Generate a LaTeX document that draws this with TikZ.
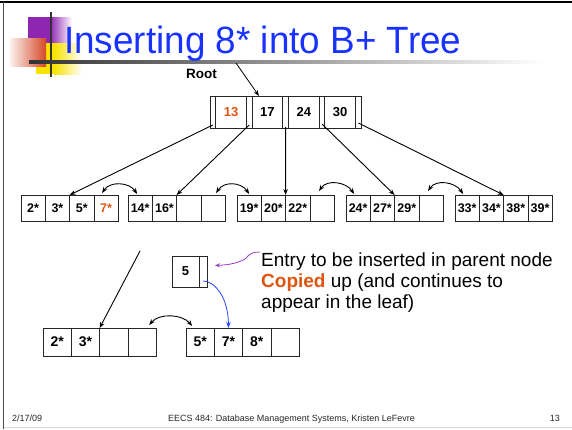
\documentclass[tikz,border=0pt]{standalone}
\usepackage{graphicx}
\usepackage{fontspec}
\setmainfont{Liberation Sans}
\usetikzlibrary{arrows.meta}
\definecolor{ttlblue}{RGB}{25,50,255}
\definecolor{hiorange}{RGB}{221,85,17}
\definecolor{decopurple}{RGB}{142,38,178}
\definecolor{decoyellow}{RGB}{248,226,0}
\definecolor{decored}{RGB}{214,72,40}
\definecolor{arrblue}{RGB}{40,70,255}
\definecolor{squig}{RGB}{150,60,200}
\begin{document}
\begin{tikzpicture}[x=1pt,y=-1pt,
  cell/.style={draw=black!85, line width=0.7pt, minimum width=24.3pt, minimum height=26pt, inner sep=0pt, outer sep=0pt, anchor=west, font=\bfseries\fontsize{12.5}{12.5}\selectfont},
  bcell/.style={cell, minimum width=28.3pt, minimum height=28pt, font=\bfseries\fontsize{14}{14}\selectfont},
  rkey/.style={draw=black!85, line width=0.7pt, minimum width=30.8pt, minimum height=32pt, inner sep=0pt, outer sep=0pt, anchor=west, font=\bfseries\fontsize{13}{13}\selectfont},
  rptr/.style={draw=black!85, line width=1pt, minimum width=5.6pt, minimum height=32pt, inner sep=0pt, outer sep=0pt, anchor=west},
  ptrarrow/.style={-{Stealth[length=6pt,width=4.5pt]}, line width=0.9pt},
  sib/.style={{Stealth[length=6pt,width=4.5pt]}-{Stealth[length=6pt,width=4.5pt]}, line width=0.9pt},
  txt/.style={anchor=base west, inner sep=0pt, font=\fontsize{19}{21}\selectfont},
  foot/.style={inner sep=0pt, font=\fontsize{9}{9}\selectfont, text=black!85}
]
\useasboundingbox (0,0) rectangle (572,429);
% slide frame
\draw[black, line width=1.5pt] (0,2) -- (572,2);
\draw[black!70, line width=1.2pt] (3.5,2) -- (3.5,429);
\draw[black!15, line width=1pt] (3.5,427) -- (572,427);
% title decoration
\fill[decopurple] (28,17) rectangle (50,44);
\shade[left color=decopurple, right color=white] (50,17) rectangle (72,44);
\fill[decoyellow] (36,43) rectangle (54,74);
\shade[left color=decoyellow, right color=white] (54,43) rectangle (82,74);
\shade[left color=decored!8, right color=decored] (10,38) rectangle (46,66);
\draw[black!80, line width=2.5pt] (51,12) -- (51,77);
\shade[left color=black!80, right color=white] (29,60.5) rectangle (545,63.5);
\node[anchor=base west, inner sep=0pt, text=ttlblue, font=\fontsize{38}{38}\selectfont] (title) at (64,53) {\scalebox{0.97}[1]{Inserting 8* into B+ Tree}};
% root
\node[inner sep=0pt, font=\bfseries\fontsize{13.5}{13.5}\selectfont] (rootlbl) at (201.5,74) {Root};
\node[rptr] (p0) at (210,112) {};
\node[rkey, text=hiorange] (k1) at (p0.east) {13};
\node[rptr] (p1) at (k1.east) {};
\node[rkey] (k2) at (p1.east) {17};
\node[rptr] (p2) at (k2.east) {};
\node[rkey] (k3) at (p2.east) {24};
\node[rptr] (p3) at (k3.east) {};
\node[rkey] (k4) at (p3.east) {30};
\node[rptr] (p4) at (k4.east) {};
\coordinate (rootfrom) at (236,63);
\draw[ptrarrow, line width=0.8pt] (rootfrom) -- ([xshift=7pt]k2.north west);
% leaves
\node[cell] (l1c1) at (21,208) {2*};
\node[cell] (l1c2) at (l1c1.east) {3*};
\node[cell] (l1c3) at (l1c2.east) {5*};
\node[cell, text=hiorange] (l1c4) at (l1c3.east) {7*};
\node[cell] (l2c1) at (128,208) {14*};
\node[cell] (l2c2) at (l2c1.east) {16*};
\node[cell] (l2c3) at (l2c2.east) {};
\node[cell] (l2c4) at (l2c3.east) {};
\node[cell] (l3c1) at (237,208) {19*};
\node[cell] (l3c2) at (l3c1.east) {20*};
\node[cell] (l3c3) at (l3c2.east) {22*};
\node[cell] (l3c4) at (l3c3.east) {};
\node[cell] (l4c1) at (346,208) {24*};
\node[cell] (l4c2) at (l4c1.east) {27*};
\node[cell] (l4c3) at (l4c2.east) {29*};
\node[cell] (l4c4) at (l4c3.east) {};
\node[cell] (l5c1) at (455,208) {33*};
\node[cell] (l5c2) at (l5c1.east) {34*};
\node[cell] (l5c3) at (l5c2.east) {38*};
\node[cell] (l5c4) at (l5c3.east) {39*};
% root pointers
\draw[ptrarrow] ([yshift=3pt]p0.south) -- (l1c2.north east);
\draw[ptrarrow] ([yshift=3pt]p1.south) -- (l2c2.north east);
\draw[ptrarrow] ([yshift=1pt]p2.south) -- (l3c2.north east);
\draw[ptrarrow] ([yshift=4pt]p3.south) -- (l4c2.north east);
\draw[ptrarrow] ([yshift=5pt]p4.south) -- (l5c2.north east);
% sibling links
\draw[sib] ([xshift=-4pt,yshift=2pt]l1c4.north) .. controls +(8,-12) and +(-8,-12) .. ([xshift=-3pt,yshift=1pt]l2c1.north);
\draw[sib] ([xshift=3pt,yshift=2pt]l2c4.north) .. controls +(8,-12) and +(-8,-12) .. ([yshift=1pt]l3c1.north);
\draw[sib] ([xshift=-3pt,yshift=4pt]l3c4.north) .. controls +(8,-12) and +(-8,-12) .. ([xshift=-4pt,yshift=1pt]l4c1.north);
\draw[sib] ([xshift=-3pt,yshift=4pt]l4c4.north) .. controls +(8,-12) and +(-8,-12) .. ([xshift=-4pt,yshift=1pt]l5c1.north);
% split result
\node[bcell] (bl1) at (43,342) {2*};
\node[bcell] (bl2) at (bl1.east) {3*};
\node[bcell] (bl3) at (bl2.east) {};
\node[bcell] (bl4) at (bl3.east) {};
\node[bcell] (br1) at (186,342) {5*};
\node[bcell] (br2) at (br1.east) {7*};
\node[bcell] (br3) at (br2.east) {8*};
\node[bcell] (br4) at (br3.east) {};
\coordinate (bfrom) at (140,251);
\draw[ptrarrow] (bfrom) -- (bl2.north east);
\draw[sib] ([xshift=-7pt,yshift=3pt]bl4.north east) .. controls +(10,-12) and +(-10,-12) .. ([xshift=-8pt,yshift=2pt]br1.north);
% copied-up entry
\node[draw=black!85, line width=0.7pt, minimum width=27pt, minimum height=31pt, inner sep=0pt, outer sep=0pt, anchor=west, font=\bfseries\fontsize{13}{13}\selectfont] (n5) at (172,271.5) {5};
\node[draw=black!85, line width=0.7pt, minimum width=8pt, minimum height=31pt, inner sep=0pt, outer sep=0pt, anchor=west] (ptr5) at (n5.east) {};
\draw[ptrarrow, arrblue, line width=0.8pt] ([yshift=6pt]ptr5.south) .. controls +(12,0) and +(0,-30) .. (br2.north);
\coordinate (sqfrom) at (260,252);
\draw[squig, line width=0.8pt, -{Stealth[length=5pt,width=4pt]}] (sqfrom) .. controls (246,252) and (250,258) .. (241,261) .. controls (234,264) and (226,265) .. ([xshift=8pt,yshift=6pt]ptr5.east);
\node[txt] (t1) at (261,266) {Entry to be inserted in parent node};
\node[txt] (t2) at (261,287) {\textcolor{hiorange}{\bfseries Copied} up (and continues to};
\node[txt] (t3) at (261,308) {appear in the leaf)};
% footer
\node[foot, anchor=base west] (fdate) at (12,421) {2/17/09};
\node[foot, anchor=base] (fcourse) at (291.5,421) {EECS 484: Database Management Systems, Kristen LeFevre};
\node[foot, anchor=base east] (fpage) at (560,421) {13};
\end{tikzpicture}
\end{document}
